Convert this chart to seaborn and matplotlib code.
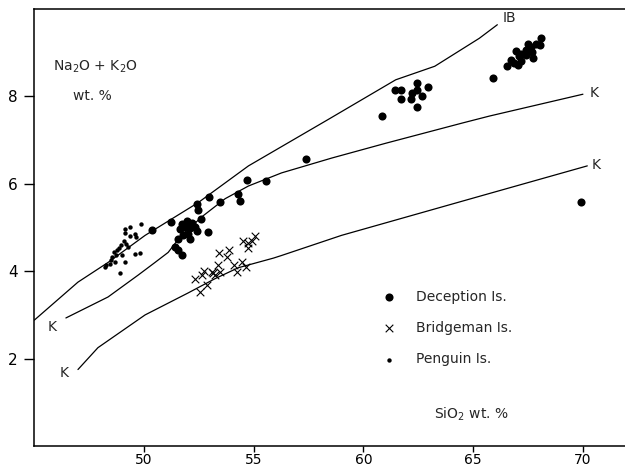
import matplotlib
matplotlib.use("Agg")
import matplotlib.pyplot as plt
import seaborn as sns
import pandas as pd

# ---------------- data ----------------
deception_x = [50.37, 51.25, 52.40, 52.47, 52.96, 52.60, 53.47, 54.30, 54.38, 51.71,
               51.94, 52.17, 51.64, 51.87, 52.10, 52.32, 52.40, 52.02, 51.79, 51.56,
               52.10, 52.90, 51.41, 51.53, 51.71, 54.67, 55.54, 57.37,
               60.86, 61.44, 61.70, 61.70, 62.16, 62.20, 62.43, 62.46, 62.66, 62.95, 62.43,
               65.89, 66.53, 66.73, 66.96, 66.88, 67.08, 67.19, 67.42, 67.49, 67.39,
               67.65, 67.72, 67.69, 67.88, 68.03, 68.11, 67.04, 67.19,
               69.90]
deception_y = [4.95, 5.12, 5.54, 5.39, 5.69, 5.20, 5.59, 5.77, 5.61, 5.08,
               5.14, 5.11, 4.97, 5.01, 4.98, 5.01, 4.93, 4.86, 4.82, 4.74,
               4.74, 4.89, 4.55, 4.48, 4.36, 6.09, 6.07, 6.57,
               7.56, 8.14, 8.15, 7.94, 7.94, 8.07, 8.30, 8.15, 8.02, 8.21, 7.75,
               8.42, 8.70, 8.83, 9.05, 8.76, 8.92, 8.80, 8.95, 9.21, 9.06,
               9.14, 8.87, 9.02, 9.21, 9.17, 9.33, 8.72, 8.98,
               5.59]

bridgeman_x = [52.32, 52.55, 52.85, 52.75, 53.08, 53.24, 53.47, 53.39, 53.42, 53.85,
               53.77, 54.08, 54.23, 54.46, 54.64, 54.53, 54.73, 54.91, 54.73, 55.07,
               52.63, 53.16]
bridgeman_y = [3.83, 3.53, 3.68, 4.00, 3.98, 3.91, 3.98, 4.14, 4.42, 4.48,
               4.33, 4.14, 3.98, 4.21, 4.10, 4.68, 4.65, 4.68, 4.52, 4.80,
               3.92, 3.95]

penguin_x = [49.38, 49.88, 49.12, 49.12, 49.35, 49.58, 49.65, 49.09, 49.19, 48.97,
             48.86, 48.77, 48.62, 48.74, 48.55, 48.51, 48.66, 48.44, 48.28, 48.21,
             49.12, 49.01, 49.58, 49.81, 48.89, 49.27]
penguin_y = [5.02, 5.08, 4.97, 4.87, 4.80, 4.84, 4.78, 4.70, 4.63, 4.59,
             4.54, 4.48, 4.44, 4.36, 4.33, 4.25, 4.21, 4.17, 4.14, 4.10,
             4.21, 4.36, 4.40, 4.42, 3.95, 4.55]

ib_x = [45.0, 46.99, 48.36, 50.05, 52.47, 54.76, 58.42, 61.47, 63.25, 65.28, 66.10]
ib_y = [2.88, 3.75, 4.20, 4.82, 5.57, 6.41, 7.48, 8.38, 8.69, 9.33, 9.64]

k_upper_x = [46.44, 48.36, 49.73, 50.50, 51.10, 51.70, 52.70, 53.70, 54.76, 56.27,
             58.56, 61.03, 64.50, 65.74, 70.00]
k_upper_y = [2.93, 3.41, 3.91, 4.20, 4.43, 4.82, 5.27, 5.66, 5.95, 6.25,
             6.59, 6.93, 7.39, 7.55, 8.05]

k_lower_x = [46.99, 47.90, 50.05, 52.00, 53.24, 54.30, 55.90, 56.27, 59.00, 65.40, 70.20]
k_lower_y = [1.75, 2.25, 3.00, 3.50, 3.83, 4.08, 4.30, 4.36, 4.82, 5.73, 6.41]

x_ticks = [50, 55, 60, 65, 70]
y_ticks = [2, 4, 6, 8]

# ---------------- figure ----------------
sns.set_style("white")
plt.rcParams['font.family'] = ['DejaVu Sans']

W, H = 625, 469
fig = plt.figure(figsize=(W / 100, H / 100), dpi=100)
ax_top_px, ax_bot_px = 9, 446
ax = fig.add_axes([34.3 / W, (H - ax_bot_px) / H, (626.8 - 34.3) / W,
                   (ax_bot_px - ax_top_px) / H])

lw_curve = 0.9
for xs, ys in [(ib_x, ib_y), (k_upper_x, k_upper_y), (k_lower_x, k_lower_y)]:
    sns.lineplot(x=xs, y=ys, ax=ax, color="black", lw=lw_curve, sort=False,
                 estimator=None)

dec = pd.DataFrame({"x": deception_x, "y": deception_y})
bri = pd.DataFrame({"x": bridgeman_x, "y": bridgeman_y})
pen = pd.DataFrame({"x": penguin_x, "y": penguin_y})

sns.scatterplot(data=dec, x="x", y="y", ax=ax, color="black", s=34, marker="o",
                edgecolor="black", linewidth=0, label="Deception Is.")
sns.scatterplot(data=bri, x="x", y="y", ax=ax, color="black", s=30, marker="x",
                linewidth=0.8, label="Bridgeman Is.")
sns.scatterplot(data=pen, x="x", y="y", ax=ax, color="black", s=10, marker="o",
                edgecolor="black", linewidth=0, label="Penguin Is.")

ax.set_xlim(45, 72)
ax.set_ylim(0, 10)
ax.set_xticks(x_ticks)
ax.set_yticks(y_ticks)
ax.set_xlabel("")
ax.set_ylabel("")
ax.tick_params(axis="both", direction="out", width=1.0, color="black",
               labelsize=11, labelcolor="black", bottom=True, left=True)
ax.tick_params(axis="x", length=4, pad=1, labelsize=10)
ax.tick_params(axis="y", length=7, pad=5)
for side in ["left", "bottom", "top"]:
    ax.spines[side].set_color("black")
    ax.spines[side].set_linewidth(1.1)
ax.spines["right"].set_visible(False)

tfs = 10
ax.text(45.84, 8.68, "Na$_2$O + K$_2$O", fontsize=tfs, ha="left", va="center")
ax.text(46.76, 8.0, "wt. %", fontsize=tfs, ha="left", va="center")
ax.text(63.22, 0.62, "SiO$_2$ wt. %", fontsize=tfs, ha="left", va="baseline")
ax.text(66.33, 9.8, "IB", fontsize=tfs, ha="left", va="center")
ax.text(70.3, 8.07, "K", fontsize=tfs, ha="left", va="center")
ax.text(70.4, 6.43, "K", fontsize=tfs, ha="left", va="center")
ax.text(45.6, 2.73, "K", fontsize=tfs, ha="left", va="center")
ax.text(46.17, 1.68, "K", fontsize=tfs, ha="left", va="center")

leg = ax.legend(loc="upper left", bbox_to_anchor=(60.85, 3.58),
                bbox_transform=ax.transData, frameon=False, fontsize=tfs,
                handlelength=1.0, handletextpad=1.45, labelspacing=1.25,
                borderpad=0, borderaxespad=0)

fig.savefig("out.png", dpi=100)
